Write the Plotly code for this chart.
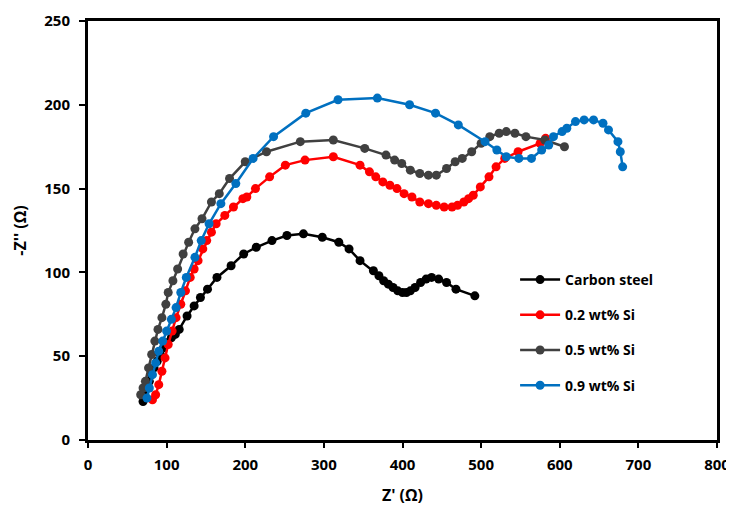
import plotly.graph_objects as go

# Carbon steel
cs_x = [70, 72, 75, 78, 81, 84, 88, 92, 96, 100, 106, 111, 116, 126, 135, 143, 152, 164, 182, 198, 214, 234, 253, 274, 298, 319, 332, 346, 363, 370, 376, 382, 388, 394, 400, 405, 410, 416, 423, 430, 437, 446, 456, 468, 492]
cs_y = [23, 27, 31, 35, 39, 43, 47, 51, 55, 58, 61, 63, 66, 74, 80, 85, 90, 97, 104, 111, 115, 119, 122, 123, 121, 118, 114, 107, 101, 98, 95, 93, 91, 89, 88, 88, 89, 91, 94, 96, 97, 96, 94, 90, 86]

# 0.2 wt% Si
s2_x = [82, 86, 90, 94, 98, 102, 107, 112, 118, 124, 130, 135, 140, 146, 151, 157, 163, 174, 185, 197, 202, 213, 231, 251, 276, 312, 346, 358, 366, 375, 384, 393, 402, 412, 422, 433, 443, 453, 463, 470, 478, 484, 490, 499, 510, 519, 530, 547, 575, 582]
s2_y = [24, 27, 33, 41, 49, 57, 65, 73, 81, 89, 97, 102, 107, 114, 119, 124, 129, 134, 139, 144, 145, 150, 157, 164, 167, 169, 164, 160, 157, 154, 152, 150, 147, 145, 142, 141, 140, 139, 139, 140, 142, 144, 146, 151, 157, 163, 168, 172, 177, 180]

# 0.5 wt% Si
s5_x = [67, 70, 73, 77, 81, 85, 89, 94, 99, 102, 108, 114, 121, 128, 136, 145, 157, 167, 180, 200, 227, 270, 312, 352, 379, 390, 399, 410, 422, 433, 443, 456, 467, 476, 488, 500, 511, 523, 532, 543, 557, 581, 606]
s5_y = [27, 31, 35, 43, 51, 59, 66, 73, 81, 88, 95, 102, 111, 118, 126, 132, 142, 147, 156, 166, 172, 178, 179, 174, 170, 167, 165, 161, 159, 158, 158, 162, 166, 168, 172, 177, 181, 183, 184, 183, 181, 179, 175]

# 0.9 wt% Si
s9_x = [75, 78, 82, 86, 90, 95, 100, 106, 112, 118, 125, 136, 144, 154, 169, 188, 210, 236, 277, 318, 368, 409, 442, 471, 505, 520, 532, 548, 564, 577, 586, 592, 603, 609, 620, 631, 643, 655, 662, 674, 677, 680]
s9_y = [25, 31, 39, 46, 53, 59, 65, 72, 79, 88, 97, 109, 119, 129, 141, 153, 168, 181, 195, 203, 204, 200, 195, 188, 178, 173, 169, 168, 168, 173, 176, 181, 184, 186, 190, 191, 191, 189, 185, 178, 172, 163]

series = [
    ("Carbon steel", cs_x, cs_y, "#000000"),
    ("0.2 wt% Si", s2_x, s2_y, "#FF0000"),
    ("0.5 wt% Si", s5_x, s5_y, "#404040"),
    ("0.9 wt% Si", s9_x, s9_y, "#0070C0"),
]

x_ticks = [0, 100, 200, 300, 400, 500, 600, 700, 800]
y_ticks = [0, 50, 100, 150, 200, 250]

FONT = "Open Sans"

fig = go.Figure()
for i, (name, xs, ys, col) in enumerate(series):
    fig.add_trace(go.Scatter(
        x=xs, y=ys, name=name, mode="lines+markers",
        line=dict(color=col, width=2.5),
        marker=dict(color=col, size=9),
        legendgroup=f"g{i}",
    ))

# page body has an 8px default margin; margins below compensate for it
fig.update_layout(
    width=734, height=508,
    margin=dict(l=80, r=25, t=13, b=76, autoexpand=False),
    paper_bgcolor="white", plot_bgcolor="white",
    font=dict(family=FONT, color="black"),
    showlegend=True,
    legend=dict(
        x=0.679, y=0.42, xanchor="left", yanchor="top",
        bgcolor="rgba(0,0,0,0)",
        font=dict(family=FONT, size=14, color="black", weight="bold"),
        tracegroupgap=14, itemwidth=40,
    ),
)
fig.update_xaxes(
    range=[0, 800], tickvals=x_ticks, ticktext=[str(v) for v in x_ticks],
    showgrid=False, zeroline=False, automargin=False,
    showline=True, linewidth=3, linecolor="black", mirror=True,
    ticks="outside", ticklen=5, tickwidth=2, tickcolor="black",
    tickfont=dict(family=FONT, size=15, weight="bold"),
    ticklabelstandoff=4,
    title=dict(text="Z' (Ω)", font=dict(family=FONT, size=16, weight="bold"), standoff=17),
)
fig.update_yaxes(
    range=[0, 250], tickvals=y_ticks, ticktext=[str(v) for v in y_ticks],
    showgrid=False, zeroline=False, automargin=False,
    showline=True, linewidth=3, linecolor="black", mirror=True,
    ticks="outside", ticklen=6, tickwidth=2, tickcolor="black",
    tickfont=dict(family=FONT, size=15, weight="bold"),
    ticklabelstandoff=6,
    title=dict(text="-Z'' (Ω)", font=dict(family=FONT, size=16, weight="bold"), standoff=14),
)

fig.write_html("out.html")
